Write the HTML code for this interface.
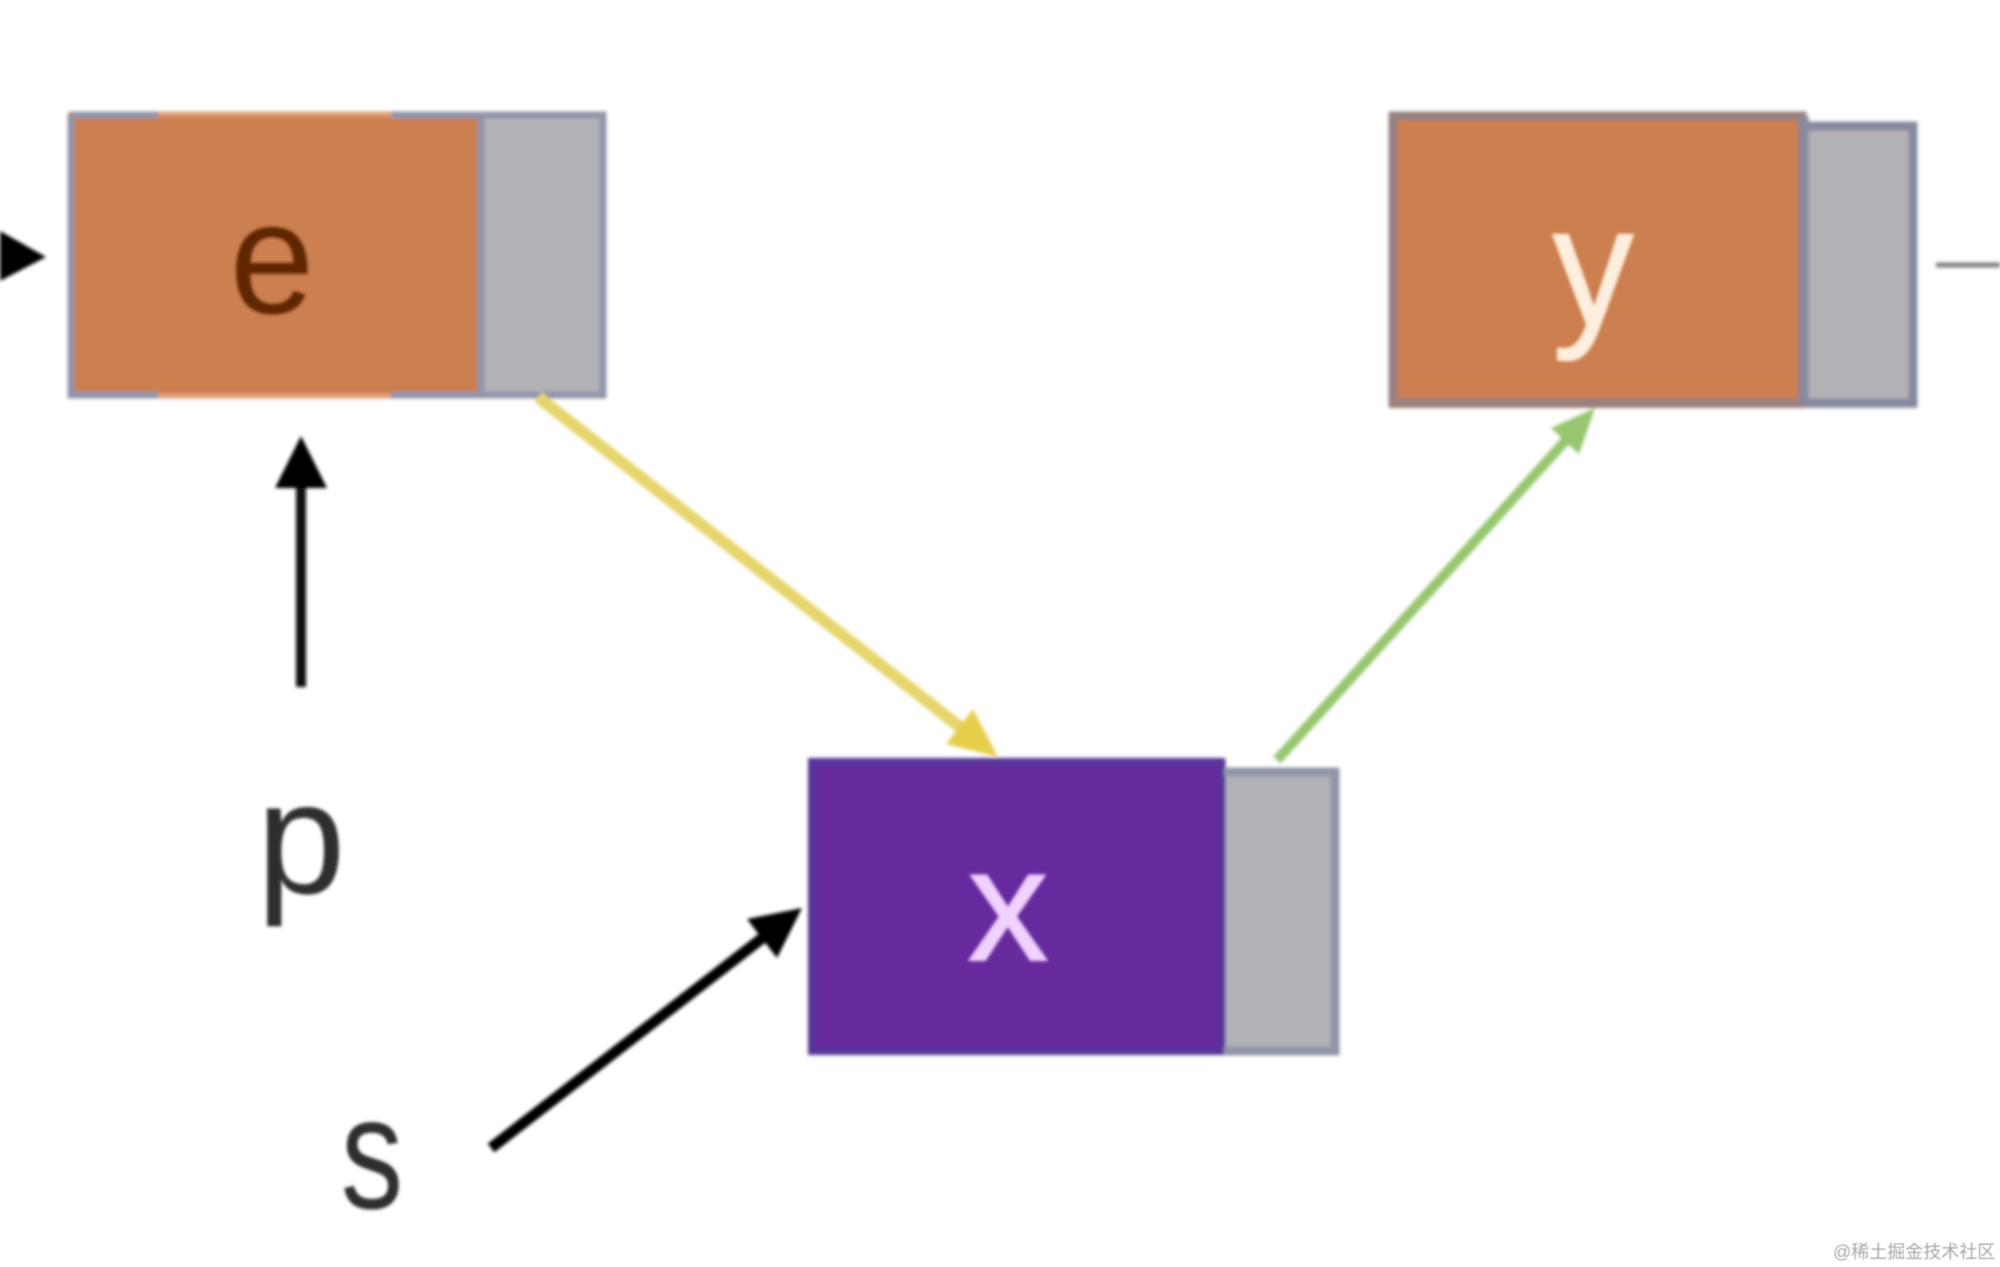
<!DOCTYPE html>
<html lang="zh">
<head>
<meta charset="utf-8">
<title>Linked list diagram</title>
<style>
html,body{margin:0;padding:0;width:2000px;height:1267px;background:#fff;overflow:hidden}
svg{display:block}
text{font-family:"Liberation Sans","Noto Sans CJK SC",sans-serif}
</style>
</head>
<body>
<svg width="2000" height="1267" viewBox="0 0 2000 1267" xmlns="http://www.w3.org/2000/svg">
<defs>
<filter id="b" x="-5%" y="-5%" width="110%" height="110%"><feGaussianBlur stdDeviation="1.8"/></filter>
<filter id="t" x="-20%" y="-20%" width="140%" height="140%"><feGaussianBlur stdDeviation="1.7"/></filter>
<filter id="w" x="-5%" y="-20%" width="110%" height="140%"><feGaussianBlur stdDeviation="0.5"/></filter>
</defs>
<rect width="2000" height="1267" fill="#fff"/>
<g filter="url(#b)">
  <!-- e node -->
  <rect x="68" y="112" width="413" height="286" fill="#cc7f4f"/>
  <rect x="481" y="112" width="125" height="286" fill="#b2b1b5"/>
  <path d="M71 115H158M391 115H603V395H391M158 395H71V115M481 115V395" fill="none" stroke="#9294aa" stroke-width="7"/>
  <path d="M158 114H391M158 396H391" fill="none" stroke="#e0a07a" stroke-width="5"/>

  <!-- y node -->
  <rect x="1389" y="112" width="415" height="296" fill="#cc7f4f"/>
  <rect x="1804" y="122" width="113" height="286" fill="#b2b1b5"/>
  <path d="M1393 116H1802V403H1393Z" fill="none" stroke="#9a8080" stroke-width="9"/>
  <path d="M1804 126H1913V403H1804M1804 116V403" fill="none" stroke="#868a9e" stroke-width="9"/>

  <!-- x node -->
  <rect x="808" y="758" width="416" height="297" fill="#662b9e"/>
  <rect x="1224" y="768" width="115" height="287" fill="#b2b1b5"/>
  <path d="M812 762H1222V1051H812Z" fill="none" stroke="#573599" stroke-width="7"/>
  <path d="M1224 772H1335V1051H1224" fill="none" stroke="#9095a8" stroke-width="9"/>

  <!-- yellow arrow -->
  <line x1="538" y1="397" x2="960" y2="727" stroke="#e6d56c" stroke-width="12"/>
  <polygon points="998,757 946,744 973,709" fill="#e6cf4e"/>

  <!-- green arrow -->
  <line x1="1277" y1="760" x2="1567" y2="439" stroke="#97c670" stroke-width="10"/>
  <polygon points="1595,408 1579,454 1551,428" fill="#97c670"/>

  <!-- black arrows -->
  <line x1="301" y1="687" x2="301" y2="480" stroke="#0a0a0a" stroke-width="10"/>
  <polygon points="301,436 327,488 275,488" fill="#000"/>
  <line x1="491" y1="1148" x2="765" y2="936" stroke="#000" stroke-width="11"/>
  <polygon points="802,908 777,958 747,919" fill="#000"/>
  <polygon points="0,231 46,257 0,281" fill="#000"/>

  <!-- grey stub -->
  <line x1="1936" y1="265" x2="2000" y2="265" stroke="#808080" stroke-width="5"/>
</g>

<g filter="url(#t)" font-size="160" text-anchor="middle">
  <text x="272" y="313" fill="#5f2506" transform="translate(272 0) scale(.95 1) translate(-272 0)">e</text>
  <text fill="#fdeedd" stroke="#fdeedd" stroke-width="1.5" font-size="150" transform="translate(1593 325) scale(1.08 1.14)">y</text>
  <text x="1008" y="960" fill="#f0d2ff" stroke="#f0d2ff" stroke-width="2" font-size="160">x</text>
  <text x="301" y="893" fill="#2f2f2f">p</text>
  <text fill="#2f2f2f" transform="translate(372 1208) scale(.78 1)">s</text>
</g>

<text x="1833" y="1258" font-size="18" fill="#a8a8a8" filter="url(#w)">@稀土掘金技术社区</text>
</svg>
</body>
</html>
